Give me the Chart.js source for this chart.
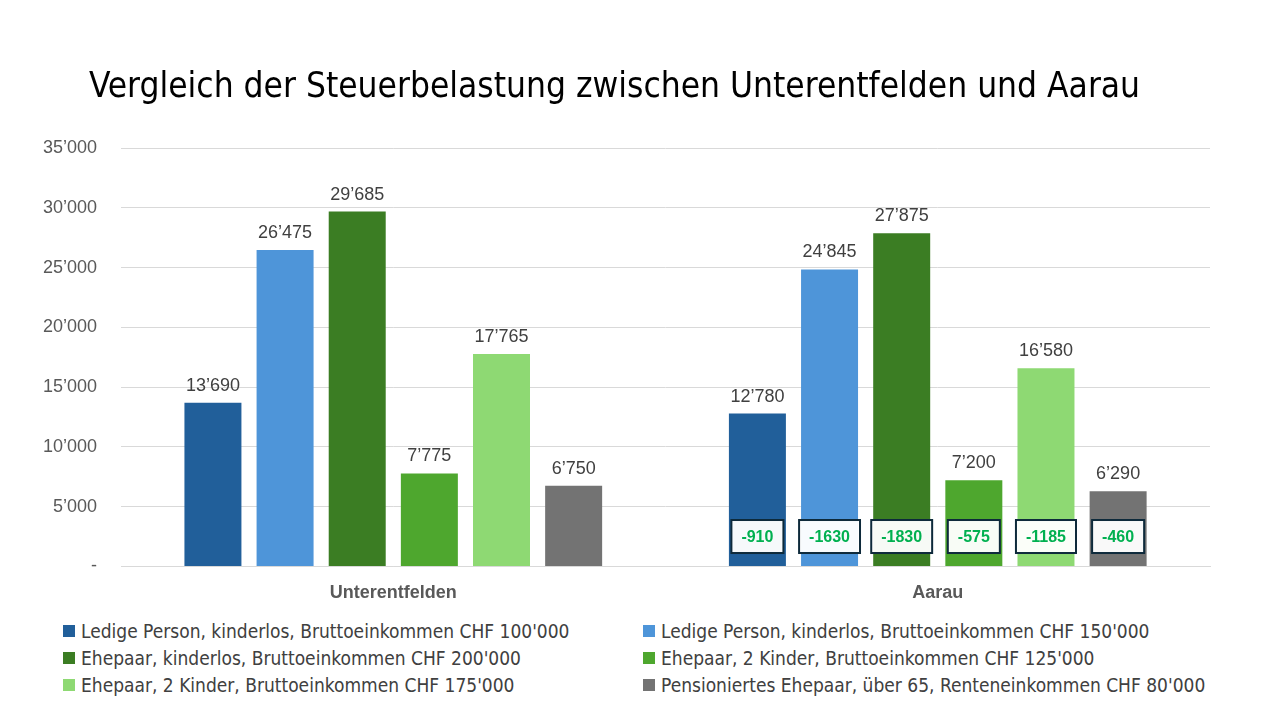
<!DOCTYPE html>
<html>

<head>
  <title>Vergleich der Steuerbelastung</title>
  <script src="https://cdn.jsdelivr.net/npm/chart.js@4.4.1/dist/chart.umd.min.js"></script>

  <style>
    body {
      margin: 0;
      background-color: white;
      width: 1280px;
      height: 720px;
      overflow: hidden;
      position: relative;
    }

    .chart-container {
      position: absolute;
      left: 0;
      top: 0;
      width: 1280px;
      height: 612px;
    }

    #legend {
      position: absolute;
      left: 63px;
      top: 620px;
      width: 1180px;
      font-family: "Liberation Sans Narrow", "DejaVu Sans Condensed", sans-serif;
      font-size: 19px;
      color: #404040;
      display: grid;
      grid-template-columns: 580px 580px;
      row-gap: 5px;
    }

    #legend .item {
      display: flex;
      align-items: center;
      height: 22px;
    }

    #legend .box {
      width: 12px;
      height: 12px;
      margin-right: 6px;
      flex: none;
    }
  </style>
</head>

<body>
  <div class="chart-container">
    <canvas id="taxChart"></canvas>
  </div>
  <div id="legend"></div>

  <script>
    const chartTitle = 'Vergleich der Steuerbelastung zwischen Unterentfelden und Aarau';
    const gemeinden = ['Unterentfelden', 'Aarau'];
    const seriesNames = [
      "Ledige Person, kinderlos, Bruttoeinkommen CHF 100'000",
      "Ledige Person, kinderlos, Bruttoeinkommen CHF 150'000",
      "Ehepaar, kinderlos, Bruttoeinkommen CHF 200'000",
      "Ehepaar, 2 Kinder, Bruttoeinkommen CHF 125'000",
      "Ehepaar, 2 Kinder, Bruttoeinkommen CHF 175'000",
      "Pensioniertes Ehepaar, über 65, Renteneinkommen CHF 80'000"
    ];
    // [Unterentfelden, Aarau] pro Fall
    const ledig100 = [13690, 12780];
    const ledig150 = [26475, 24845];
    const paar200 = [29685, 27875];
    const kinder125 = [7775, 7200];
    const kinder175 = [17765, 16580];
    const rentner80 = [6750, 6290];
    // Differenz Aarau gegenüber Unterentfelden
    const differenzen = [-910, -1630, -1830, -575, -1185, -460];
    const yTicks = [0, 5000, 10000, 15000, 20000, 25000, 30000, 35000];

    const colors = [
      "#215F9A", // dunkelblau
      "#4E95D9", // hellblau
      "#3B7D23", // dunkelgruen
      "#4EA72E", // gruen
      "#8ED973", // hellgruen
      "#737373"  // grau
    ];

    function fmt(v) {
      return String(v).replace(/\B(?=(\d{3})+(?!\d))/g, '\u2019');
    }

    // Werte ueber den Balken
    const valueLabels = {
      id: 'valueLabels',
      afterDatasetsDraw(chart) {
        const ctx = chart.ctx;
        ctx.save();
        ctx.font = '18px "Liberation Sans", Arial, sans-serif';
        ctx.fillStyle = '#404040';
        ctx.textAlign = 'center';
        ctx.textBaseline = 'alphabetic';
        chart.data.datasets.forEach((ds, i) => {
          chart.getDatasetMeta(i).data.forEach((bar, j) => {
            ctx.fillText(fmt(ds.data[j]), bar.x, bar.y - 12);
          });
        });
        ctx.restore();
      }
    };

    // Kaestchen mit Differenz in der Aarau-Gruppe
    const diffBoxes = {
      id: 'diffBoxes',
      afterDatasetsDraw(chart, args, opts) {
        const ctx = chart.ctx;
        const yc = chart.scales.y.getPixelForValue(opts.atValue);
        ctx.save();
        ctx.font = 'bold 16px "Liberation Sans", Arial, sans-serif';
        ctx.textAlign = 'center';
        ctx.textBaseline = 'middle';
        differenzen.forEach((d, i) => {
          const bar = chart.getDatasetMeta(i).data[1];
          const txt = String(d);
          const w = ctx.measureText(txt).width + 20;
          const h = 33;
          ctx.fillStyle = 'rgba(255,255,255,0.96)';
          ctx.fillRect(bar.x - w / 2, yc - h / 2, w, h);
          ctx.lineWidth = 2;
          ctx.strokeStyle = '#0E2A3B';
          ctx.strokeRect(bar.x - w / 2, yc - h / 2, w, h);
          ctx.fillStyle = '#00B050';
          ctx.fillText(txt, bar.x, yc + 1);
        });
        ctx.restore();
      }
    };

    const values = [ledig100, ledig150, paar200, kinder125, kinder175, rentner80];
    const datasets = [];
    for (let i = 0; i < seriesNames.length; i++) {
      datasets.push({
        label: seriesNames[i],
        data: values[i],
        backgroundColor: colors[i],
        borderWidth: 0,
        categoryPercentage: 0.795,
        barPercentage: 0.79
      });
    }

    // HTML-Legende in zwei Spalten
    const legend = document.getElementById('legend');
    seriesNames.forEach((name, i) => {
      const item = document.createElement('div');
      item.className = 'item';
      const box = document.createElement('span');
      box.className = 'box';
      box.style.background = colors[i];
      const label = document.createElement('span');
      label.textContent = name;
      item.appendChild(box);
      item.appendChild(label);
      legend.appendChild(item);
    });

    const ctx = document.getElementById('taxChart').getContext('2d');
    new Chart(ctx, {
      type: 'bar',
      data: {
        labels: gemeinden,
        datasets: datasets
      },
      plugins: [valueLabels, diffBoxes],
      options: {
        responsive: true,
        maintainAspectRatio: false,
        animation: false,
        layout: {
          padding: { left: 19, right: 70, top: 20, bottom: 0 }
        },
        plugins: {
          legend: { display: false },
          tooltip: { enabled: false },
          title: {
            display: true,
            text: chartTitle,
            color: '#000000',
            font: { family: '"Liberation Sans Narrow", "DejaVu Sans Condensed", sans-serif', size: 35, weight: 'normal' },
            padding: { top: 47, bottom: 39 }
          },
          diffBoxes: { atValue: 2500 }
        },
        scales: {
          x: {
            grid: { display: false },
            border: { color: '#D9D9D9' },
            ticks: {
              color: '#595959',
              padding: 8,
              font: { family: '"Liberation Sans", Arial, sans-serif', size: 18, weight: 'bold' }
            }
          },
          y: {
            min: 0,
            max: 35000,
            afterBuildTicks: (axis) => {
              axis.ticks = yTicks.map(v => ({ value: v }));
            },
            grid: { color: '#D9D9D9', drawTicks: false },
            border: { display: false },
            ticks: {
              color: '#595959',
              padding: 24,
              font: { family: '"Liberation Sans", Arial, sans-serif', size: 18 },
              callback: function (value) {
                return value === 0 ? '-' : fmt(value);
              }
            }
          }
        }
      }
    });
  </script>
</body>

</html>
